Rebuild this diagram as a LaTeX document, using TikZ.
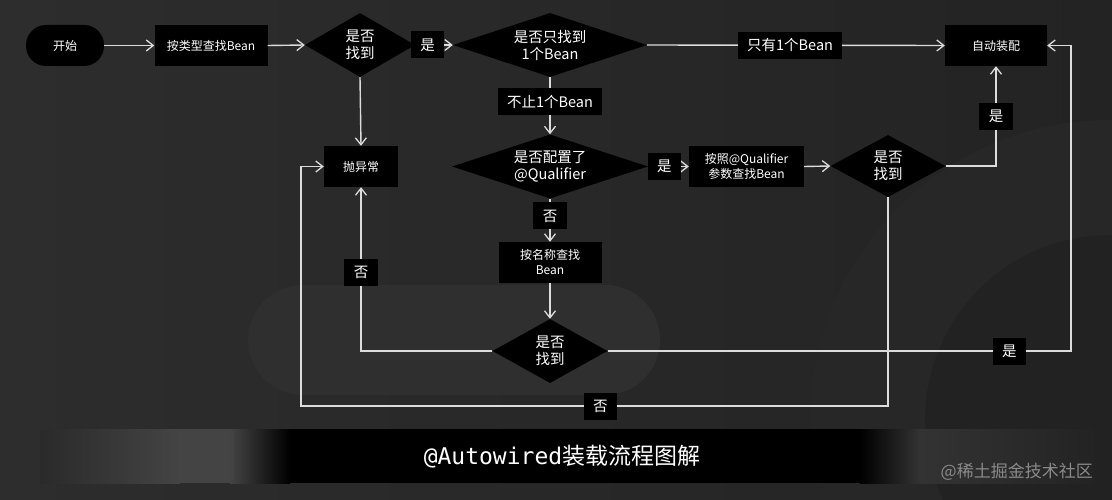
\documentclass[tikz,border=0pt]{standalone}
\usepackage{fontspec}
\newfontfamily\cjk{Noto Sans CJK SC}
\newfontfamily\monof{DejaVu Sans Mono}
\usetikzlibrary{arrows.meta,shapes.geometric,calc}
\definecolor{bgA}{HTML}{2D2D2D}
\definecolor{bgB}{HTML}{232323}
\definecolor{bgPill}{HTML}{2F2F2F}
\definecolor{bgRing}{HTML}{272727}
\definecolor{bgIn}{HTML}{222222}
\definecolor{linec}{HTML}{DCDCDC}
\definecolor{barGray}{HTML}{444444}
\definecolor{barDark}{HTML}{2A2A2A}
\definecolor{barR}{HTML}{333333}
\definecolor{wm}{HTML}{8A8A8A}
\begin{document}
\begin{tikzpicture}[x=1pt,y=-1pt,
  conn/.style={draw=linec, line width=1.4pt},
  arr/.style={conn, -{Straight Barb[length=7pt,width=11pt,line width=1.3pt]}},
  pill/.style={rectangle, rounded corners=20pt, fill=black, text=white, font=\cjk\fontsize{12}{15}\selectfont, minimum width=78pt, minimum height=41pt, inner sep=0pt},
  box/.style={rectangle, fill=black, text=white, font=\cjk\fontsize{12}{15}\selectfont, align=center, minimum height=41pt, inner sep=0pt},
  dia/.style={diamond, fill=black, text=white, font=\cjk\fontsize{14.5}{17}\selectfont, align=center, inner sep=0pt},
  lbl/.style={rectangle, fill=black, text=white, font=\cjk\fontsize{14.5}{17}\selectfont, minimum height=27pt, inner xsep=9.5pt, inner ysep=0pt}
]
% background
\useasboundingbox (0,0) rectangle (1112,500);
\shade[left color=bgA, right color=bgB] (0,0) rectangle (1112,500);
\begin{scope}
  \clip (0,0) rectangle (1112,500);
  \fill[bgRing] (1110,420) circle[radius=300];
  \fill[bgIn] (1110,420) circle[radius=185];
\end{scope}
\fill[bgPill, rounded corners=55pt] (248,285) rectangle (660,395);

% title bar
\fill[black] (280,429) rectangle (870,483);
\shade[left color=barDark, right color=barGray] (40,429) rectangle (180,483);
\fill[barGray] (180,429) rectangle (230,483);
\shade[left color=barGray, right color=black] (230,429) rectangle (290,483);
\shade[left color=black, right color=barR] (860,429) rectangle (920,483);
\shade[left color=barR, right color=bgB] (920,429) rectangle (1095,483);
\node[text=white, font=\fontsize{23}{26}\selectfont, inner sep=0pt] (title) at (562,457) {{\monof @Autowired}{\cjk 装载流程图解}};
\node[text=wm, font=\cjk\fontsize{17}{20}\selectfont, inner sep=0pt, anchor=east] (mark) at (1093,472) {@稀土掘金技术社区};

% nodes
\node[pill] (start) at (65,45.5) {开始};
\node[box, minimum width=113pt] (b1) at (211,45.5) {按类型查找Bean};
\node[dia, minimum width=110pt, minimum height=64pt, shape aspect=1.7] (d1) at (360,45) {是否\\找到};
\node[dia, minimum width=194pt, minimum height=64pt, shape aspect=3] (d2) at (550,45) {是否只找到\\1个Bean};
\node[box, minimum width=102pt] (auto) at (996,45.5) {自动装配};
\node[box, minimum width=74pt] (err) at (361,166.5) {抛异常};
\node[dia, minimum width=196pt, minimum height=64pt, shape aspect=3] (d3) at (550,166.5) {是否配置了\\@Qualifier};
\node[box, minimum width=115pt] (q) at (746.5,166.5) {按照@Qualifier\\参数查找Bean};
\node[dia, minimum width=115pt, minimum height=62pt, shape aspect=1.8] (d5) at (888,166) {是否\\找到};
\node[box, minimum width=103pt] (nb) at (550,262.5) {按名称查找\\Bean};
\node[dia, minimum width=115pt, minimum height=64pt, shape aspect=1.8] (d4) at (550,351) {是否\\找到};

\coordinate (rr) at (1071,351);
\coordinate (bl) at (301,406);

% connectors
\draw[arr] (start.east) -- (b1.west);
\draw[arr] (b1.east) -- (d1.west);
\draw[arr] (d1.east) -- node[lbl,pos=0.33] (l1) {是} (d2.west);
\draw[arr] (d2.east) -- node[lbl,pos=0.48] (l2) {只有1个Bean} (auto.west);
\draw[arr] (d2.south) -- node[lbl,pos=0.43] (l3) {不止1个Bean} (d3.north);
\draw[arr] (d1.south) -- (err.north);
\draw[arr] (d3.east) -- node[lbl,pos=0.4] (l4) {是} (q.west);
\draw[arr] (q.east) -- (d5.west);
\draw[arr] (d5.east) -| node[lbl,pos=0.75] (l5) {是} (auto.south);
\draw[arr] (d3.south) -- node[lbl,pos=0.4] (l6) {否} (nb.north);
\draw[arr] (nb.south) -- (d4.north);
\draw[arr] (d4.west) -| node[lbl,pos=0.74] (l7) {否} (err.south);
\draw[arr] (d5.south) -- (d5.south |- bl) -- node[lbl,pos=0.49] (l9) {否} (bl) |- (err.west);
\draw[arr] (d4.east) -- node[lbl,pos=0.867] (l8) {是} (rr) |- (auto.east);
\end{tikzpicture}
\end{document}
